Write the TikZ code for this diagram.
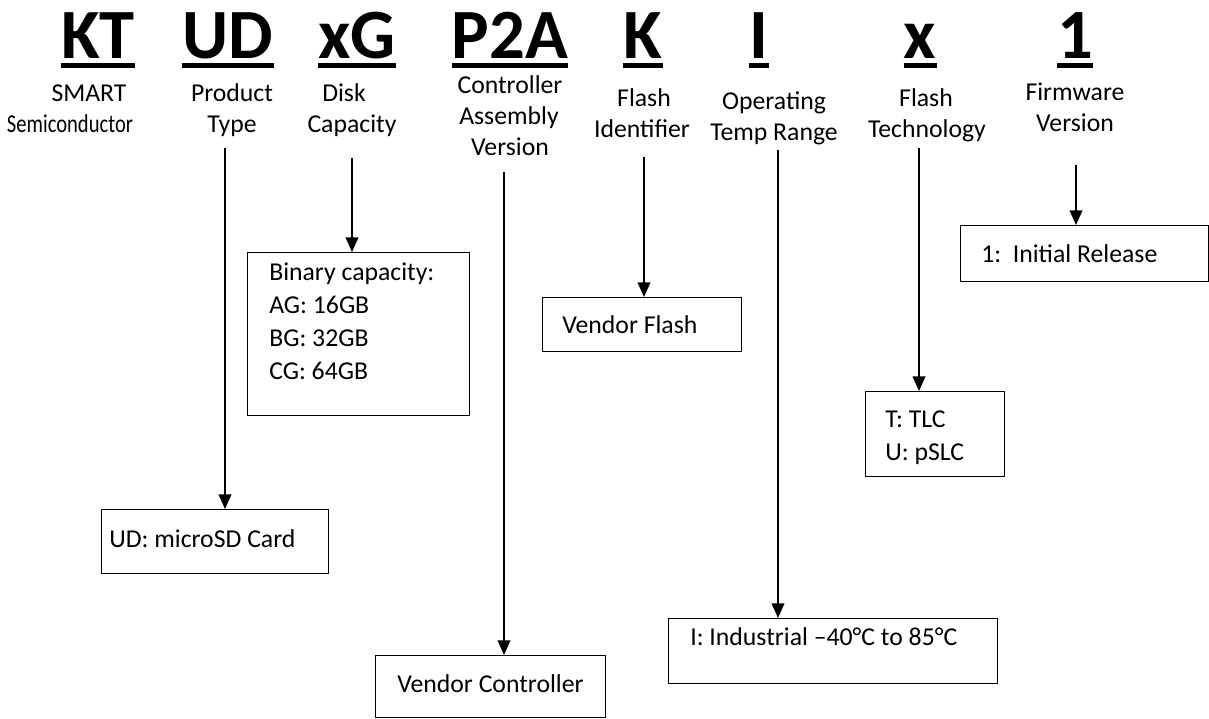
\documentclass[tikz,border=0pt]{standalone}
\usepackage{fontspec}
\setmainfont{Carlito}
\usetikzlibrary{arrows.meta}
\begin{document}
\begin{tikzpicture}[x=0.75pt,y=-0.75pt,
  code/.style={font=\fontsize{53}{60}\selectfont\bfseries, inner sep=0pt, anchor=base},
  uline/.style={line width=3.6pt},
  lab/.style={font=\fontsize{19.3}{23}\selectfont, inner sep=0pt, anchor=base},
  txt/.style={font=\fontsize{19.3}{23}\selectfont, inner sep=0pt, anchor=base west},
  box/.style={draw, line width=1.1pt, anchor=north west, inner sep=0pt},
  arr/.style={line width=1.3pt, -{Triangle[width=9.5pt,length=11pt]}}]
\useasboundingbox (0,0) rectangle (1209,718);
% codes
\foreach \n/\x/\t in {kt/98/KT, ud/228/UD, xg/357/xG, pta/510/P2A, k/643/K, i/759/I, x/920/x, one/1075/1}{
  \node[code] (\n) at (\x,58) {\t};
  \draw[uline] ([yshift=-5.4pt]\n.base west) -- ([yshift=-5.4pt]\n.base east);
}
% labels
\node[lab] (l1a) at (89,101) {SMART};
\node[lab] (l1b) at (70,132) {\scalebox{0.8}[1]{Semiconductor}};
\node[lab] (l2a) at (232,101) {Product};
\node[lab] (l2b) at (232,132) {Type};
\node[lab] (l3a) at (344,101) {Disk};
\node[lab] (l3b) at (352,132) {Capacity};
\node[lab] (l4a) at (510,93) {Controller};
\node[lab] (l4b) at (509,124) {Assembly};
\node[lab] (l4c) at (510,155) {Version};
\node[lab] (l5a) at (644,106) {Flash};
\node[lab] (l5b) at (642,137) {Identifier};
\node[lab] (l6a) at (774,109) {Operating};
\node[lab] (l6b) at (774,140) {Temp Range};
\node[lab] (l7a) at (926,106) {Flash};
\node[lab] (l7b) at (927,137) {Technology};
\node[lab] (l8a) at (1075,100) {Firmware};
\node[lab] (l8b) at (1075,131) {Version};
% boxes
\node[box, minimum width=227*0.75pt, minimum height=64*0.75pt] (udbox) at (101,509) {};
\node[txt] (udtxt) at (109,547) {UD: microSD Card};
\node[box, minimum width=222*0.75pt, minimum height=163*0.75pt] (capbox) at (247,252) {};
\node[txt] (cap1) at (269,280) {Binary capacity:};
\node[txt] (cap2) at (269,313) {AG: 16GB};
\node[txt] (cap3) at (269,346) {BG: 32GB};
\node[txt] (cap4) at (269,379) {CG: 64GB};
\node[box, minimum width=230*0.75pt, minimum height=62*0.75pt] (ctlbox) at (375,655) {};
\node[txt] (ctltxt) at (397,692) {Vendor Controller};
\node[box, minimum width=199*0.75pt, minimum height=54*0.75pt] (flbox) at (542,297) {};
\node[txt] (fltxt) at (562,333) {Vendor Flash};
\node[box, minimum width=329*0.75pt, minimum height=65*0.75pt] (tmpbox) at (668,618) {};
\node[txt] (tmptxt) at (690,645) {I: Industrial --40°C to 85°C};
\node[box, minimum width=139*0.75pt, minimum height=85*0.75pt] (tecbox) at (865,391) {};
\node[txt] (tec1) at (885,427) {T: TLC};
\node[txt] (tec2) at (885,460) {U: pSLC};
\node[box, minimum width=248*0.75pt, minimum height=56*0.75pt] (fwbox) at (960,225) {};
\node[txt] (fwtxt) at (981,262) {1:\ \ Initial Release};
% arrows
\coordinate (a2) at (225,148);
\coordinate (a3) at (352,158);
\coordinate (a4) at (504,172);
\coordinate (a5) at (644,157);
\coordinate (a6) at (778,150);
\coordinate (a7) at (919,148);
\coordinate (a8) at (1076,165);
\draw[arr] (a2) -- (a2 |- udbox.north);
\draw[arr] (a3) -- (a3 |- capbox.north);
\draw[arr] (a4) -- (a4 |- ctlbox.north);
\draw[arr] (a5) -- (a5 |- flbox.north);
\draw[arr] (a6) -- (a6 |- tmpbox.north);
\draw[arr] (a7) -- (a7 |- tecbox.north);
\draw[arr] (a8) -- (a8 |- fwbox.north);
\end{tikzpicture}
\end{document}
